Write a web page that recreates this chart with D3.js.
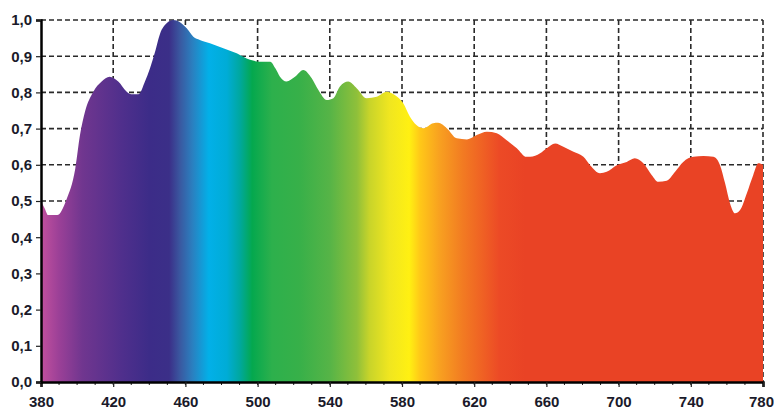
<!DOCTYPE html>
<html lang="en">
	<head>
		<meta charset="utf-8">
		<title>D3: Spectral power distribution</title>
		<script type="text/javascript" src="https://cdn.jsdelivr.net/npm/d3@7"></script>
		<style type="text/css">
			body { margin: 0; background: #fff; }
			text { font-family: "Liberation Sans", Arial, sans-serif; }
		</style>
	</head>
	<body>
		<script type="text/javascript">

			// wavelength (nm) and relative intensity
			var wavelengths = [380, 382, 384, 389, 394, 399, 401.6, 404.4, 409, 413.6, 418, 422.8, 427.5, 430, 434,
							   437.6, 440.4, 443.2, 446, 449.6, 453.3, 457, 460.7, 464.4, 468, 473.6, 481, 488.4,
							   495.8, 501, 507, 510, 512.4, 516, 520.7, 525.3, 530, 533.6, 538.3, 542, 545.6, 550.2,
							   555, 560.4, 566, 571.5, 576, 580.7, 584.4, 588, 592, 597.3, 600, 604.8, 610.3, 616,
							   621.4, 627, 632.5, 638, 643.6, 649, 651, 656.5, 660.2, 664.8, 669.4, 675, 680.5,
							   684.2, 689.7, 693.4, 699, 704.5, 709, 713.7, 718.3, 722, 726.6, 731.3, 735.8, 741.4,
							   747, 752.5, 756.2, 759, 761.7, 764.5, 767.3, 771, 774.6, 777.4, 780];
			var intensity = [0.50, 0.48, 0.461, 0.461, 0.503, 0.59, 0.682, 0.747, 0.802, 0.83, 0.843, 0.83, 0.802, 0.795, 0.795,
							 0.83, 0.867, 0.912, 0.963, 0.991, 1.0, 0.994, 0.977, 0.954, 0.945, 0.936, 0.922, 0.908,
							 0.89, 0.885, 0.885, 0.865, 0.843, 0.83, 0.843, 0.862, 0.839, 0.807, 0.779, 0.784, 0.816, 0.83,
							 0.811, 0.784, 0.788, 0.802, 0.793, 0.77, 0.733, 0.71, 0.701, 0.715, 0.716, 0.701, 0.673, 0.67,
							 0.682, 0.691, 0.687, 0.668, 0.646, 0.622, 0.622, 0.632, 0.646, 0.659, 0.65, 0.636, 0.622,
							 0.599, 0.577, 0.581, 0.599, 0.608, 0.618, 0.604, 0.572, 0.553, 0.556, 0.581, 0.608, 0.622,
							 0.624, 0.622, 0.599, 0.549, 0.494, 0.466, 0.475, 0.521, 0.572, 0.604, 0.60];

			// tick labels
			var xTicks = [380, 420, 460, 500, 540, 580, 620, 660, 700, 740, 780];
			var yTicks = [0, 0.1, 0.2, 0.3, 0.4, 0.5, 0.6, 0.7, 0.8, 0.9, 1.0];

			// spectrum colour stops (nm -> colour)
			var stopNm =     [380, 390, 403, 425, 440, 451, 457, 464, 473, 483, 490, 497, 508, 523, 540, 555, 562, 573, 584, 590, 601, 614, 625, 634, 648];
			var stopColors = ["#c2509e", "#9b4097", "#70368f", "#4f2f8c", "#3c2c88", "#3b2f88", "#3a58a0", "#2a80c0", "#02b0e8",
							  "#00acd6", "#00a8a0", "#04a84e", "#2db04c", "#37b049", "#56b447", "#8fc03a", "#c8d42a", "#f0e620",
							  "#fff012", "#ffc818", "#f8a020", "#f27a22", "#ef6024", "#ec4a26", "#e94325"];

			//Width and height
			var w = 774;
			var h = 410;
			var margin = { top: 20, right: 11, bottom: 28, left: 41 };

			var xScale = d3.scaleLinear()
							.domain([380, 780])
							.range([margin.left, w - margin.right]);

			var yScale = d3.scaleLinear()
							.domain([0, 1])
							.range([h - margin.bottom, margin.top]);

			var svg = d3.select("body")
						.append("svg")
						.attr("width", w)
						.attr("height", h);

			// gradient running along the wavelength axis
			var grad = svg.append("defs")
						.append("linearGradient")
						.attr("id", "spectrum")
						.attr("gradientUnits", "userSpaceOnUse")
						.attr("x1", xScale(380))
						.attr("x2", xScale(780))
						.attr("y1", 0)
						.attr("y2", 0);

			grad.selectAll("stop")
				.data(stopNm)
				.enter()
				.append("stop")
				.attr("offset", function(d) {
					return (d - 380) / 400;
				})
				.attr("stop-color", function(d, i) {
					return stopColors[i];
				});

			//Dashed grid (drawn first, the fill covers it)
			svg.selectAll("line.hgrid")
			   .data(yTicks.slice(1))
			   .enter()
			   .append("line")
			   .attr("class", "hgrid")
			   .attr("x1", margin.left)
			   .attr("x2", w - margin.right)
			   .attr("y1", function(d) { return yScale(d); })
			   .attr("y2", function(d) { return yScale(d); })
			   .attr("stroke", "#2a2a2a")
			   .attr("stroke-width", 1.6)
			   .attr("stroke-dasharray", "5,3");

			svg.selectAll("line.vgrid")
			   .data(xTicks.slice(1))
			   .enter()
			   .append("line")
			   .attr("class", "vgrid")
			   .attr("x1", function(d) { return xScale(d); })
			   .attr("x2", function(d) { return xScale(d); })
			   .attr("y1", margin.top)
			   .attr("y2", h - margin.bottom)
			   .attr("stroke", "#2a2a2a")
			   .attr("stroke-width", 1.6)
			   .attr("stroke-dasharray", "5,3");

			//Spectrum area
			var points = wavelengths.map(function(d, i) {
				return [d, intensity[i]];
			});

			var area = d3.area()
						.x(function(d) { return xScale(d[0]); })
						.y0(yScale(0))
						.y1(function(d) { return yScale(d[1]); })
						.curve(d3.curveMonotoneX);

			svg.append("path")
			   .datum(points)
			   .attr("d", area)
			   .attr("fill", "url(#spectrum)");

			//Axes
			var fmt = function(d) {
				return d3.format(".1f")(d).replace(".", ",");
			};

			var xAxis = d3.axisBottom(xScale)
							.tickValues(xTicks)
							.tickSize(5)
							.tickPadding(9);

			var yAxis = d3.axisLeft(yScale)
							.tickValues(yTicks)
							.tickFormat(fmt)
							.tickSize(5)
							.tickPadding(4);

			// minor ticks every 10 nm
			svg.append("g")
			   .attr("transform", "translate(0," + yScale(0) + ")")
			   .selectAll("line")
			   .data(d3.range(390, 780, 10))
			   .enter()
			   .append("line")
			   .attr("x1", function(d) { return xScale(d); })
			   .attr("x2", function(d) { return xScale(d); })
			   .attr("y1", 0)
			   .attr("y2", 3)
			   .attr("stroke", "#222")
			   .attr("stroke-width", 1);

			var gx = svg.append("g")
						.attr("transform", "translate(0," + yScale(0) + ")")
						.call(xAxis);

			var gy = svg.append("g")
						.attr("transform", "translate(" + margin.left + ",0)")
						.call(yAxis);

			[gx, gy].forEach(function(g) {
				g.select(".domain")
				 .attr("stroke", "#000")
				 .attr("stroke-width", 2.5);
				g.selectAll(".tick line")
				 .attr("stroke", "#222")
				 .attr("stroke-width", 1.2);
				g.selectAll(".tick text")
				 .attr("fill", "#1a1a2a")
				 .attr("font-size", "15px")
				 .attr("font-weight", "bold")
				 .attr("font-family", "'Liberation Sans', Arial, sans-serif");
			});

			// keep the last wavelength label inside the picture
			gx.selectAll(".tick text")
			  .filter(function(d) { return d === 780; })
			  .attr("dx", -2);

		</script>
	</body>
</html>
